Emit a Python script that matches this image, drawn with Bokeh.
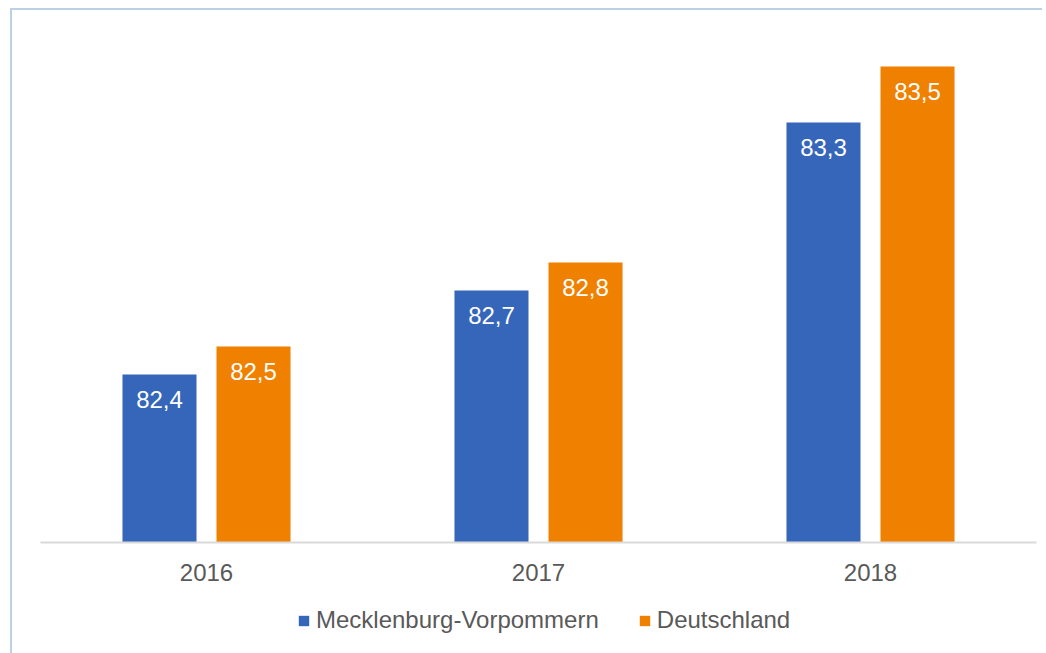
from bokeh.plotting import figure
from bokeh.models import ColumnDataSource, FactorRange, Range1d, Legend, LegendItem
from bokeh.layouts import column
from bokeh.transform import dodge
from bokeh.core.properties import value
from bokeh.embed import file_html
from bokeh.resources import INLINE

years = ["2016", "2017", "2018"]
mv_values = [82.4, 82.7, 83.3]
de_values = [82.5, 82.8, 83.5]
series_names = ["Mecklenburg-Vorpommern", "Deutschland"]

BLUE = "#3566BA"
ORANGE = "#F08000"
FONT = "Liberation Sans"
FS = "24px"

def fmt(v):
    return f"{v:.1f}".replace(".", ",")

src = ColumnDataSource(dict(
    year=years,
    mv=mv_values,
    de=de_values,
    mv_lab=[fmt(v) for v in mv_values],
    de_lab=[fmt(v) for v in de_values],
))

p = figure(
    width=1030, height=595,
    x_range=FactorRange(*years, range_padding=0),
    y_range=Range1d(81.8, 83.6),
    output_backend="svg", toolbar_location=None,
    min_border_left=28, min_border_right=6, min_border_top=28, min_border_bottom=63,
)
p.outline_line_color = None
p.background_fill_color = "white"
p.border_fill_color = "white"
p.xgrid.visible = False
p.ygrid.visible = False
p.yaxis.visible = False

off = 0.1416
bw = 0.223
r1 = p.vbar(x=dodge("year", -off, range=p.x_range), top="mv", bottom=81.8, width=bw,
            source=src, fill_color=BLUE, line_color=None)
r2 = p.vbar(x=dodge("year", off, range=p.x_range), top="de", bottom=81.8, width=bw,
            source=src, fill_color=ORANGE, line_color=None)

for col, lab in (("mv", "mv_lab"), ("de", "de_lab")):
    o = -off if col == "mv" else off
    p.text(x=dodge("year", o, range=p.x_range), y=col, text=lab, source=src,
           text_color="white", text_font=value(FONT), text_font_size=FS,
           text_align="center", text_baseline="middle", y_offset=25)

ax = p.xaxis[0]
ax.axis_line_color = "#D9D9D9"
ax.axis_line_width = 2
ax.major_tick_line_color = None
ax.minor_tick_line_color = None
ax.major_label_text_font = FONT
ax.major_label_text_font_size = FS
ax.major_label_text_color = "#595959"
ax.major_label_standoff = 15

# legend strip below the chart
p2 = figure(
    width=1030, height=48,
    x_range=Range1d(0, 1), y_range=Range1d(0, 1),
    output_backend="svg", toolbar_location=None,
    min_border_left=0, min_border_right=0, min_border_top=0, min_border_bottom=0,
)
p2.outline_line_color = None
p2.axis.visible = False
p2.grid.visible = False
# legend swatches only (placed outside the visible range)
d1 = p2.vbar(x=[-10], top=[-10], bottom=[-11], width=0.1, fill_color=BLUE, line_color=None)
d2 = p2.vbar(x=[-10], top=[-10], bottom=[-11], width=0.1, fill_color=ORANGE, line_color=None)

legend = Legend(
    items=[LegendItem(label=series_names[0], renderers=[d1]),
           LegendItem(label=series_names[1], renderers=[d2])],
    orientation="horizontal",
    location=(257, 19),
    glyph_width=13, glyph_height=13,
    label_standoff=6, spacing=39, padding=0, margin=0,
    border_line_color=None, background_fill_alpha=0,
    label_text_font=FONT, label_text_font_size=FS, label_text_color="#595959",
)
p2.add_layout(legend)

layout = column(p, p2, spacing=0)
layout.styles = {
    "margin-left": "10px",
    "margin-top": "8px",
    "border-left": "2px solid #BCD0E4",
    "border-top": "2px solid #BCD0E4",
}

open("out.html", "w").write(file_html(layout, INLINE))
